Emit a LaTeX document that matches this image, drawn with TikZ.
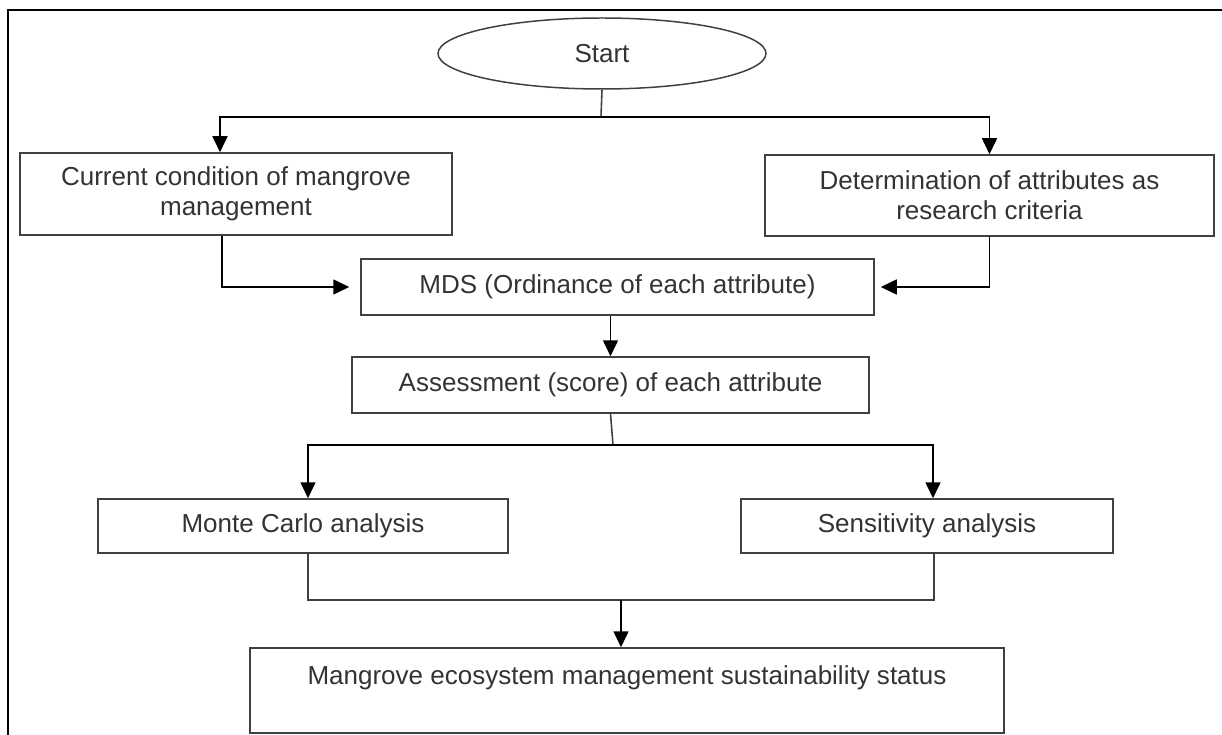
\documentclass[tikz,border=0pt]{standalone}
\usepackage{fontspec}
\setmainfont{Liberation Sans}
\usetikzlibrary{arrows.meta,positioning,shapes.geometric,calc}
\definecolor{inkgray}{HTML}{333333}
\definecolor{linegray}{HTML}{404040}

\begin{document}
\begin{tikzpicture}[font=\fontsize{14.8}{17}\selectfont,
    box/.style={rectangle, draw=linegray, line width=0.85pt, text=inkgray, align=center, inner sep=0pt},
    flow/.style={draw=linegray, line width=0.9pt},
    flowarrow/.style={flow, -{Triangle[length=0.32cm,width=0.3cm]}, black}]
      \useasboundingbox (0,0) rectangle (24.44,-14.7);
      \draw[line width=1.6pt] (0.16,-14.7) -- (0.16,-0.2) -- (24.44,-0.2);
      %nodes
      \node[ellipse, draw=linegray, line width=0.85pt, text=inkgray, minimum width=6.56cm, minimum height=1.42cm, inner sep=0pt] (start) at (12.04, -1.07) {Start};
      \node[box, minimum width=8.64cm, minimum height=1.64cm] (cond) at (4.72, -3.88) {Current condition of mangrove\\management};
      \node[box, minimum width=8.98cm, minimum height=1.62cm] (det) at (19.79, -3.91) {Determination of attributes as\\research criteria};
      \node[box, minimum width=10.26cm, minimum height=1.12cm] (mds) at (12.35, -5.74) {MDS (Ordinance of each attribute)};
      \node[box, minimum width=10.34cm, minimum height=1.12cm] (assess) at (12.21, -7.70) {Assessment (score) of each attribute};
      \node[box, minimum width=8.2cm, minimum height=1.08cm] (monte) at (6.06, -10.52) {Monte Carlo analysis};
      \node[box, minimum width=7.44cm, minimum height=1.08cm] (sens) at (18.54, -10.52) {Sensitivity analysis};
      \node[box, minimum width=15.08cm, minimum height=1.7cm, text depth=18pt] (status) at (12.54, -13.81) {Mangrove ecosystem management sustainability status};
      \coordinate (split) at (12.02, -2.34);
      \coordinate (branch) at (12.26, -8.9);
      \coordinate (merge) at (12.42, -12.0);
      %edges
      \path [flow] (start.south) -- (split);
      \path [flowarrow] (split) -| ([xshift=-0.32cm]cond.north);
      \path [flowarrow] (split) -| (det.north);
      \path [flowarrow, shorten >=0.22cm] ([xshift=-0.28cm]cond.south) |- (mds.west);
      \path [flowarrow, shorten >=0.12cm] (det.south) |- (mds.east);
      \path [flowarrow] (assess.north |- mds.south) -- (assess.north);
      \path [flow] (assess.south) -- (branch);
      \path [flowarrow] (branch) -| ([xshift=0.1cm]monte.north);
      \path [flowarrow] (branch) -| ([xshift=0.12cm]sens.north);
      \path [flow] ([xshift=0.1cm]monte.south) |- (merge) -| ([xshift=0.14cm]sens.south);
      \path [flowarrow] (merge) -- (merge |- status.north);
    \end{tikzpicture}
\end{document}
